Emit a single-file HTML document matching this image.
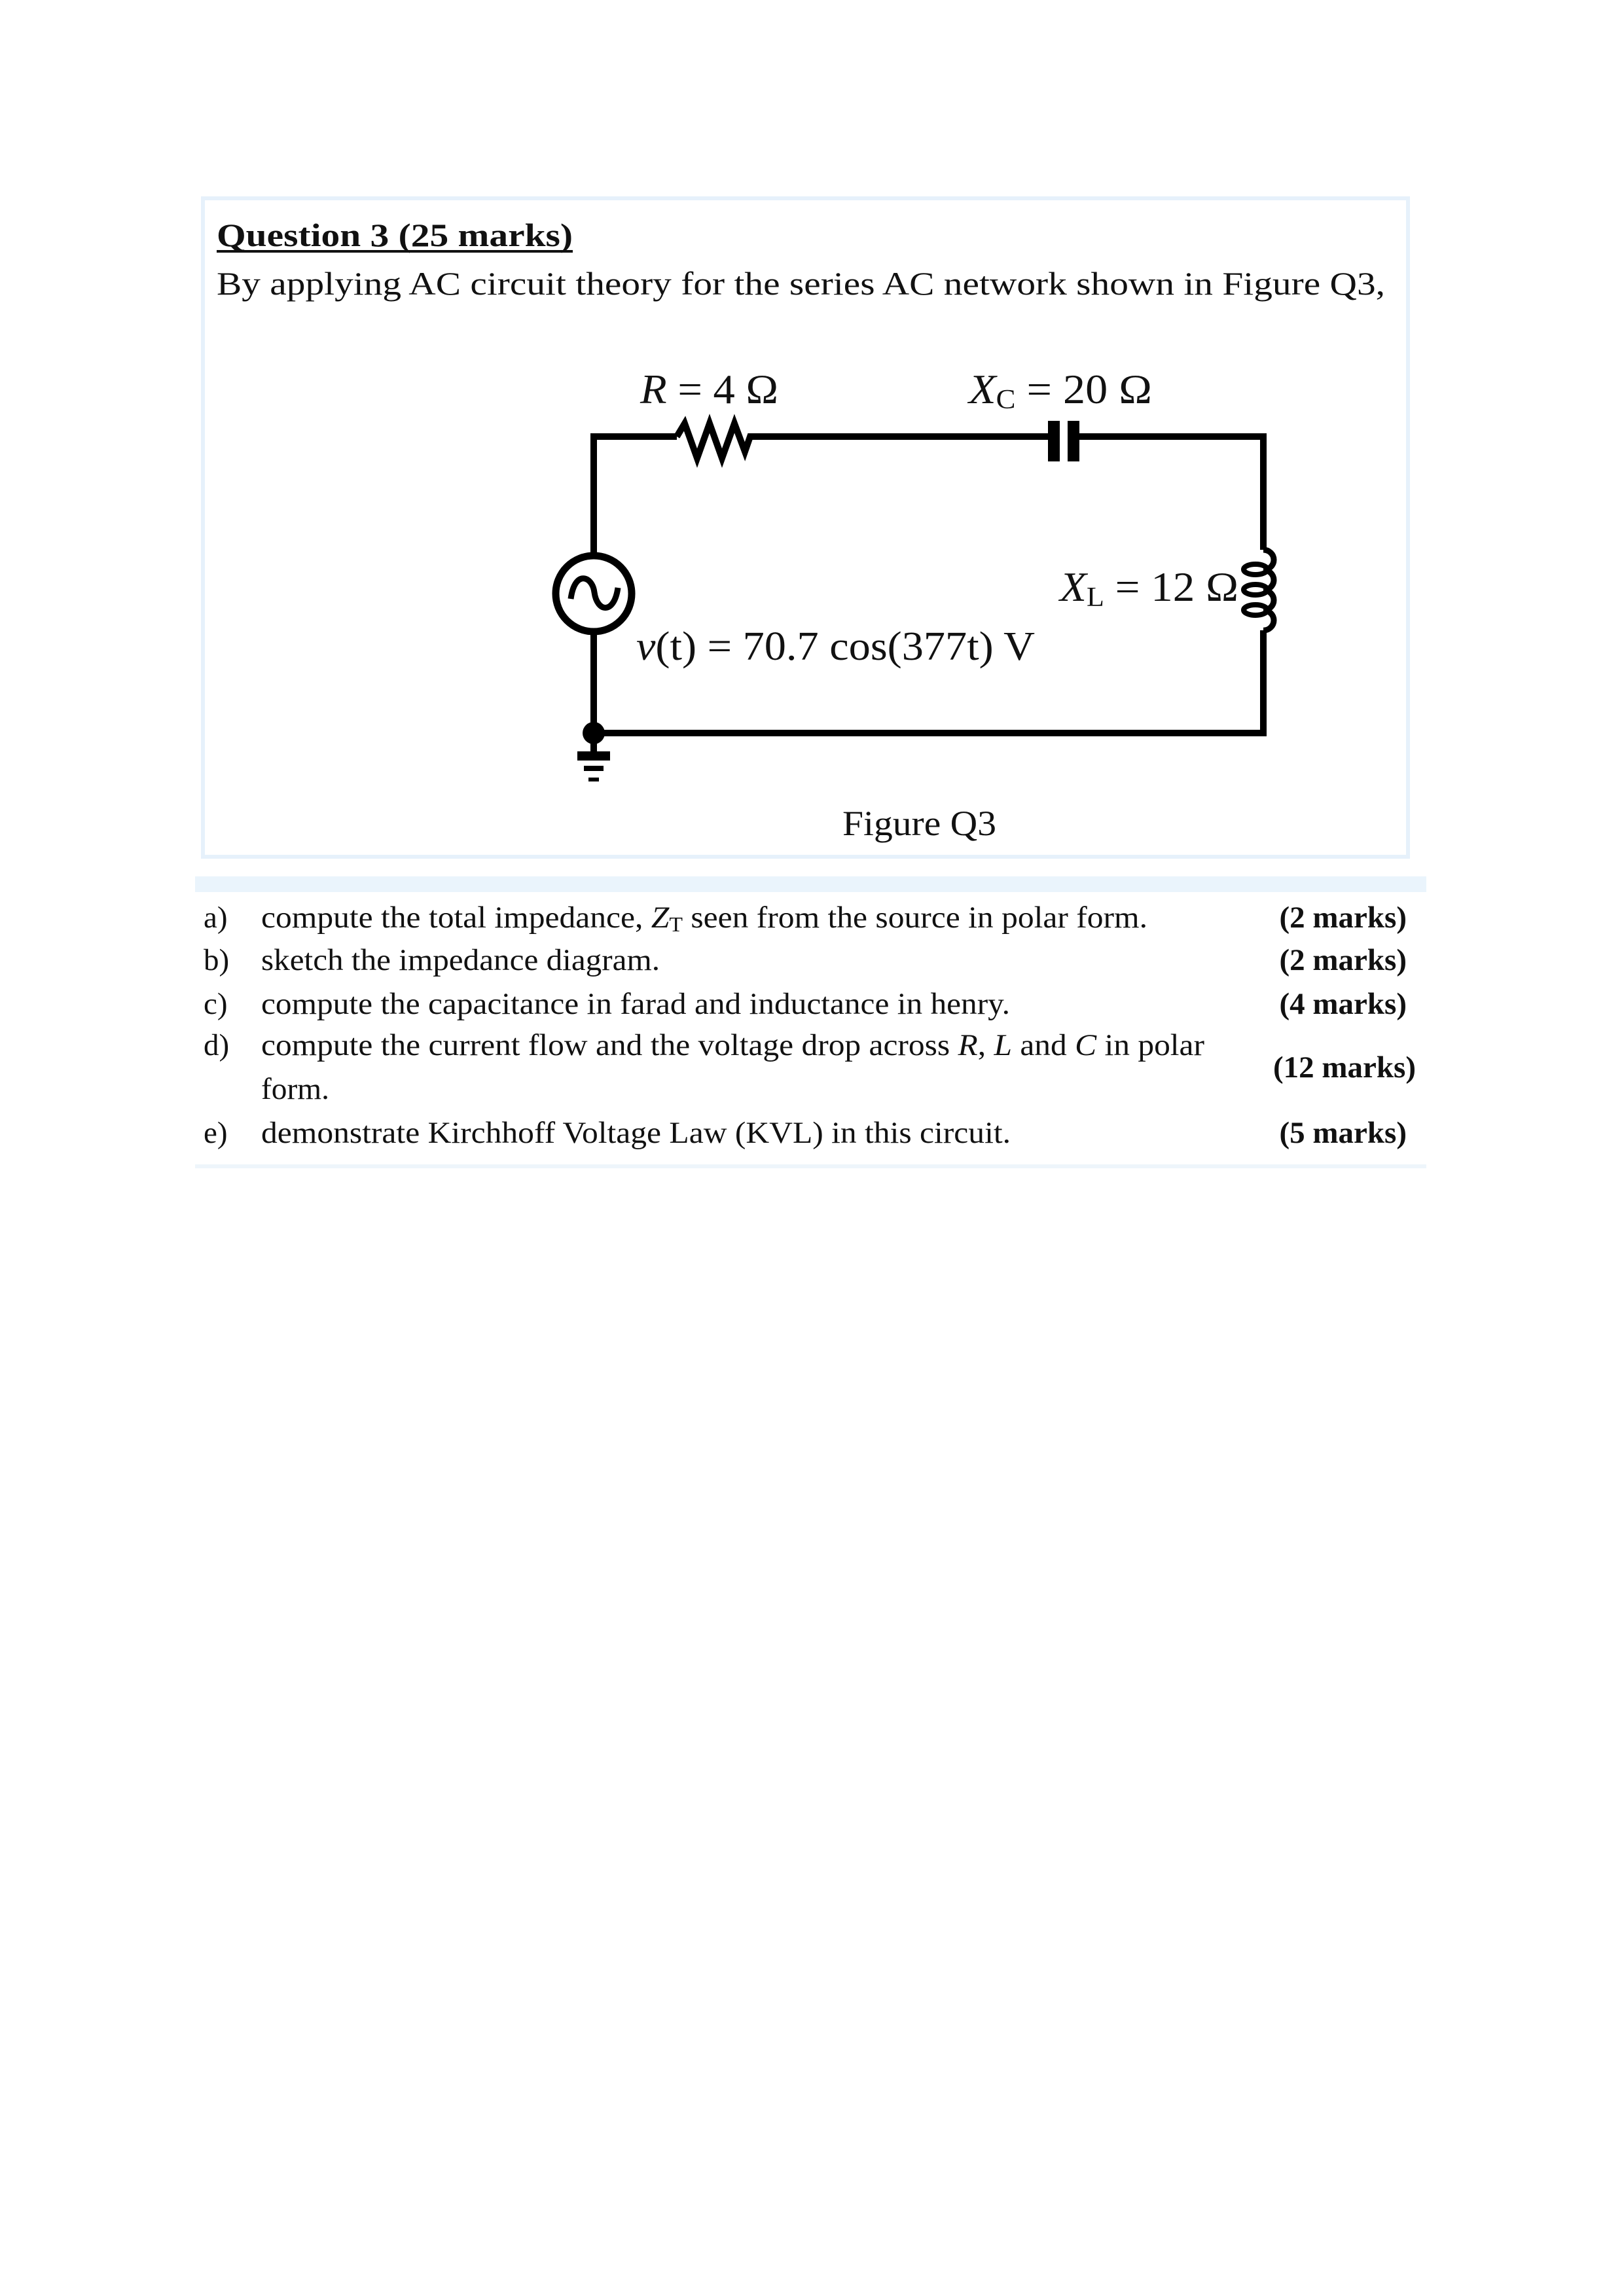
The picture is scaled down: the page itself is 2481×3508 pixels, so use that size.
<!DOCTYPE html>
<html><head><meta charset="utf-8"><style>
html,body{margin:0;padding:0;background:#fff;}
svg{display:block;}
text{font-family:"Liberation Serif",serif;fill:#111;}
</style></head><body>
<svg width="2481" height="3508" viewBox="0 0 2481 3508" xmlns="http://www.w3.org/2000/svg">
<rect x="0" y="0" width="2481" height="3508" fill="#fff"/>
<!-- frame 1 -->
<rect x="310" y="303" width="1841" height="1006" fill="none" stroke="#e6f1fb" stroke-width="6"/>
<text x="331" y="376" font-size="50" font-weight="bold" textLength="544" lengthAdjust="spacingAndGlyphs">Question 3 (25 marks)</text>
<line x1="331" y1="384" x2="875" y2="384" stroke="#111" stroke-width="4"/>
<text x="331" y="450" font-size="50" textLength="1785" lengthAdjust="spacingAndGlyphs">By applying AC circuit theory for the series AC network shown in Figure Q3,</text>

<!-- circuit wires -->
<g stroke="#000" stroke-width="10" fill="none" stroke-linejoin="miter">
<polyline points="907,847 907,667 1034,667"/>
<polyline points="1034,667 1046,647 1065,700 1084,647 1103,700 1122,647 1138,690 1146,667 1603,667"/>
<polyline points="1648,667 1930,667 1930,840"/>
<polyline points="1930,963 1930,1120 907,1120 907,967"/>
<!-- inductor -->
<path d="M1930,840 a16,15.4 0 0 1 0,30.8 a16,15.4 0 0 1 0,30.8 a16,15.4 0 0 1 0,30.8 a16,15.4 0 0 1 0,30.8" stroke-width="9"/>
<ellipse cx="1918" cy="870" rx="18" ry="8" stroke-width="8"/>
<ellipse cx="1918" cy="901" rx="18" ry="8" stroke-width="8"/>
<ellipse cx="1918" cy="932" rx="18" ry="8" stroke-width="8"/>
<!-- source -->
<circle cx="907" cy="907" r="58" stroke-width="11"/>
<path d="M872,915 C878,870 905,880 908,905 C912,935 938,940 944,898" stroke-width="9"/>
<line x1="907" y1="1120" x2="907" y2="1150"/>
</g>
<!-- capacitor -->
<rect x="1601" y="643" width="18" height="62" fill="#000"/>
<rect x="1631" y="643" width="18" height="62" fill="#000"/>
<!-- ground -->
<circle cx="907" cy="1120" r="17" fill="#000"/>
<rect x="882" y="1148" width="50" height="14" fill="#000"/>
<rect x="892" y="1170" width="30" height="8" fill="#000"/>
<rect x="899" y="1188" width="16" height="6" fill="#000"/>

<!-- labels -->
<text x="978" y="616" font-size="64" textLength="211" lengthAdjust="spacingAndGlyphs"><tspan font-style="italic">R</tspan> = 4 Ω</text>
<text x="1480" y="616" font-size="64" textLength="280" lengthAdjust="spacingAndGlyphs"><tspan font-style="italic">X</tspan><tspan font-size="42" dy="8">C</tspan><tspan dy="-8"> = 20 Ω</tspan></text>
<text x="1619" y="918" font-size="64" textLength="273" lengthAdjust="spacingAndGlyphs"><tspan font-style="italic">X</tspan><tspan font-size="42" dy="8">L</tspan><tspan dy="-8"> = 12 Ω</tspan></text>
<text x="972" y="1008" font-size="62" textLength="609" lengthAdjust="spacingAndGlyphs"><tspan font-style="italic">v</tspan>(t) = 70.7 cos(377t) V</text>
<text x="1287" y="1276" font-size="54" textLength="235" lengthAdjust="spacingAndGlyphs">Figure Q3</text>

<!-- frame 2 -->
<rect x="298" y="1339" width="1881" height="24" fill="#eaf4fc"/>
<rect x="298" y="1779" width="1881" height="6" fill="#eef5fb"/>
<g font-size="47">
<text x="311" y="1417">a)</text>
<text x="399" y="1417" textLength="1354" lengthAdjust="spacingAndGlyphs">compute the total impedance, <tspan font-style="italic">Z</tspan><tspan font-size="32" dy="6">T</tspan><tspan dy="-6"> seen from the source in polar form.</tspan></text>
<text x="311" y="1482">b)</text>
<text x="399" y="1482" textLength="609" lengthAdjust="spacingAndGlyphs">sketch the impedance diagram.</text>
<text x="311" y="1549">c)</text>
<text x="399" y="1549" textLength="1144" lengthAdjust="spacingAndGlyphs">compute the capacitance in farad and inductance in henry.</text>
<text x="311" y="1612">d)</text>
<text x="399" y="1612" textLength="1441" lengthAdjust="spacingAndGlyphs">compute the current flow and the voltage drop across <tspan font-style="italic">R</tspan>, <tspan font-style="italic">L</tspan> and <tspan font-style="italic">C</tspan> in polar</text>
<text x="399" y="1679" textLength="104" lengthAdjust="spacingAndGlyphs">form.</text>
<text x="311" y="1746">e)</text>
<text x="399" y="1746" textLength="1145" lengthAdjust="spacingAndGlyphs">demonstrate Kirchhoff Voltage Law (KVL) in this circuit.</text>
<g font-weight="bold" text-anchor="end">
<text x="2149" y="1417">(2 marks)</text>
<text x="2149" y="1482">(2 marks)</text>
<text x="2149" y="1549">(4 marks)</text>
<text x="2163" y="1646">(12 marks)</text>
<text x="2149" y="1746">(5 marks)</text>
</g>
</g>
</svg>
</body></html>
